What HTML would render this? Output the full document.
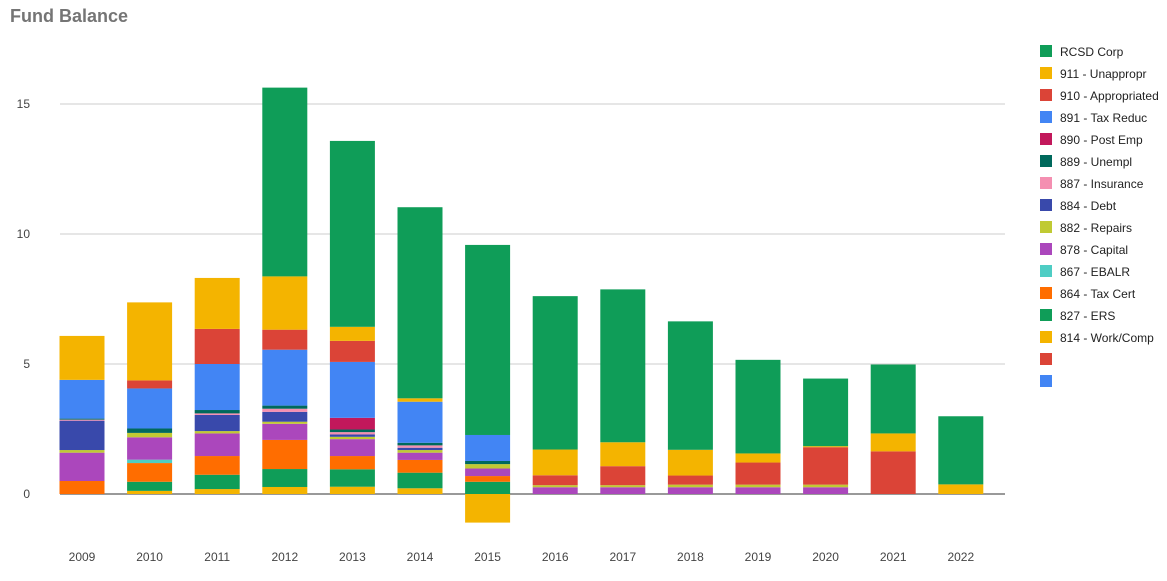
<!DOCTYPE html>
<html><head><meta charset="utf-8"><style>
body{margin:0;background:#fff;font-family:"Liberation Sans",Arial,sans-serif;}
svg text{font-family:"Liberation Sans",Arial,sans-serif;}
</style></head><body>
<svg width="1167" height="576">
<text x="10" y="22" font-size="18" font-weight="bold" fill="#757575">Fund Balance</text>
<g id="grid"></g><g id="bars"></g><g id="legend"></g>
</svg>
<script>
const years=["2009","2010","2011","2012","2013","2014","2015","2016","2017","2018","2019","2020","2021","2022"];
const seriesNames=["814 - Work/Comp","827 - ERS","864 - Tax Cert","867 - EBALR","878 - Capital","882 - Repairs","884 - Debt","887 - Insurance","889 - Unempl","890 - Post Emp","891 - Tax Reduc","910 - Appropriated","911 - Unappropr","RCSD Corp"];
const seriesColors=["#f4b400","#0f9d58","#ff6d00","#4ecdc4","#ab47bc","#c0ca33","#3949ab","#f48fb1","#00695c","#c2185b","#4285f4","#db4437","#f4b400","#0f9d58"];
const s814=[0,0.12,0.19,0.27,0.28,0.22,-1.1,0,0,0,0,0,0,0];
const s827=[0,0.35,0.55,0.69,0.67,0.6,0.47,0,0,0,0,0,0,0];
const s864=[0.5,0.72,0.72,1.12,0.51,0.49,0.22,0,0,0,0,0,0,0];
const s867=[0,0.13,0,0,0,0,0,0,0,0,0,0,0,0];
const s878=[1.09,0.86,0.87,0.62,0.65,0.28,0.29,0.26,0.26,0.26,0.26,0.26,0,0];
const s882=[0.1,0.17,0.09,0.08,0.09,0.1,0.17,0.08,0.08,0.1,0.1,0.1,0,0];
const s884=[1.13,0,0.62,0.38,0.09,0.09,0,0,0,0,0,0,0,0];
const s887=[0.04,0,0.06,0.12,0.09,0.09,0,0,0,0,0,0,0,0];
const s889=[0.04,0.17,0.13,0.12,0.1,0.1,0.12,0,0,0,0,0,0,0];
const s890=[0,0,0,0,0.45,0,0,0,0,0,0,0,0,0];
const s891=[1.49,1.54,1.77,2.15,2.15,1.58,1.0,0,0,0,0,0,0,0];
const s910=[0,0.31,1.35,0.77,0.81,0,0,0.38,0.73,0.35,0.85,1.44,1.64,0];
const s911=[1.69,3.0,1.96,2.05,0.54,0.13,0,0.99,0.92,0.99,0.35,0.04,0.69,0.37];
const sRCSD=[0,0,0,7.26,7.15,7.35,7.31,5.9,5.88,4.94,3.6,2.6,2.65,2.62];
const seriesData=[s814,s827,s864,s867,s878,s882,s884,s887,s889,s890,s891,s910,s911,sRCSD];
const yTicks=[0,5,10,15];
const legendNames=["RCSD Corp","911 - Unappropr","910 - Appropriated","891 - Tax Reduc","890 - Post Emp","889 - Unempl","887 - Insurance","884 - Debt","882 - Repairs","878 - Capital","867 - EBALR","864 - Tax Cert","827 - ERS","814 - Work/Comp","",""];
const legendColors=["#0f9d58","#f4b400","#db4437","#4285f4","#c2185b","#00695c","#f48fb1","#3949ab","#c0ca33","#ab47bc","#4ecdc4","#ff6d00","#0f9d58","#f4b400","#db4437","#4285f4"];
const NS="http://www.w3.org/2000/svg";
const y=v=>494-v*26;
const x=i=>82+i*67.6;
const bw=45;
function mk(t,a,p){const e=document.createElementNS(NS,t);for(const k in a)e.setAttribute(k,a[k]);p.appendChild(e);return e;}
const grid=document.getElementById('grid');
yTicks.forEach(t=>{
 const l=mk('line',{x1:60,x2:1005,y1:y(t),y2:y(t),stroke:t===0?'#333':'#ccc','stroke-width':1},grid);
 
 
 const tx=mk('text',{x:30,y:y(t)+4,'text-anchor':'end','font-size':12,fill:'#444'},grid);
 tx.textContent=t;
 
 
});
const bars=document.getElementById('bars');
years.forEach((yr,i)=>{
 let pos=0,neg=0;
 seriesData.forEach((s,k)=>{
  const v=s[i]; if(!v) return;
  let y0,y1;
  if(v>0){y0=pos;y1=pos+v;pos=y1;}else{y0=neg+v;y1=neg;neg=y0;}
  const r=mk('rect',{x:x(i)-bw/2,y:y(y1),width:bw,height:y(y0)-y(y1),fill:seriesColors[k]},bars);
  
  
 });
 const t=mk('text',{x:x(i),y:561,'text-anchor':'middle','font-size':12,fill:'#444'},bars);
 t.textContent=yr;
 
 
});
const lg=document.getElementById('legend');
legendNames.forEach((n,i)=>{
 const g=mk('g',{},lg);
 
 
 mk('rect',{x:1040,y:45+i*22,width:12,height:12,fill:legendColors[i]},g);
 const t=mk('text',{x:1060,y:56+i*22,'font-size':12,fill:'#222'},g);
 t.textContent=n;
});
</script>
</body></html>
